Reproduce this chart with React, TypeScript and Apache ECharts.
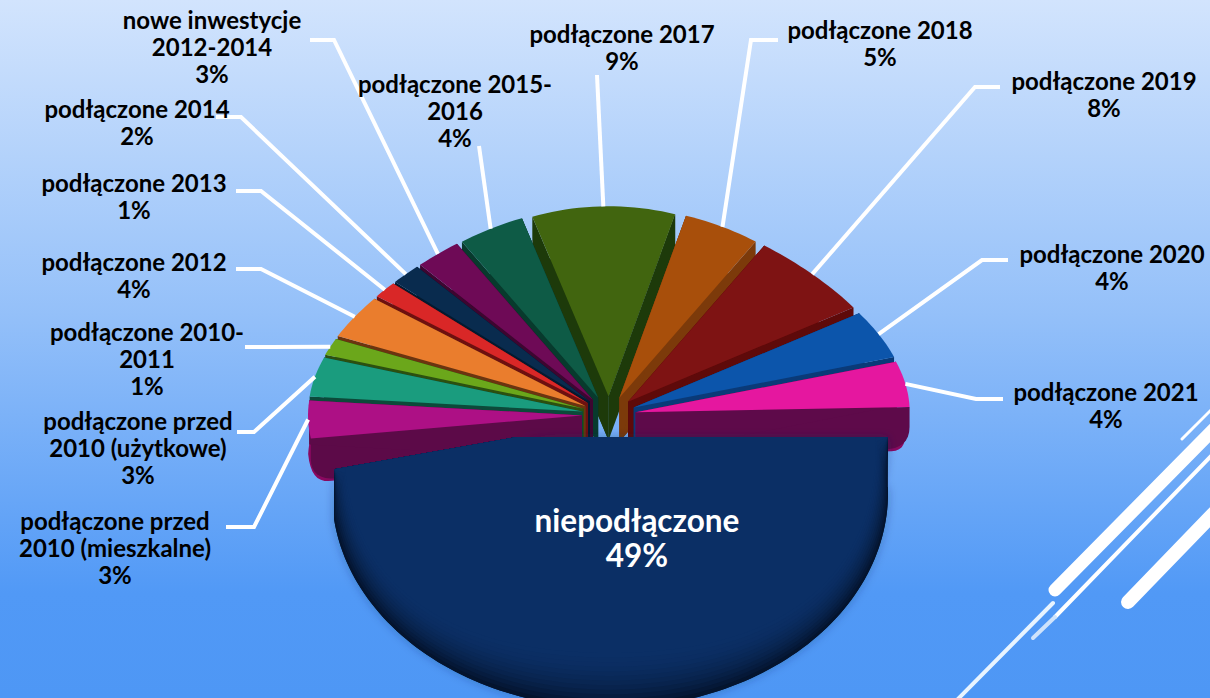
import React, { useEffect, useRef } from "react";
import * as echarts from "echarts";

// Reading order: clockwise from the large front slice.
const categories = [
  "niepodłączone",
  "podłączone przed\n2010 (mieszkalne)",
  "podłączone przed\n2010 (użytkowe)",
  "podłączone 2010-\n2011",
  "podłączone 2012",
  "podłączone 2013",
  "podłączone 2014",
  "nowe inwestycje\n2012-2014",
  "podłączone 2015-\n2016",
  "podłączone 2017",
  "podłączone 2018",
  "podłączone 2019",
  "podłączone 2020",
  "podłączone 2021",
];
const values = [48.5, 3.2, 3.4, 1.49, 3.9, 1.5, 1.9, 2.9, 4.1, 8.51, 4.7, 7.7, 4.3, 3.9];
const percentLabels = ["49%", "3%", "3%", "1%", "4%", "1%", "2%", "3%", "4%", "9%", "5%", "8%", "4%", "4%"];

const topColors = ["#0b2f65", "#ad1085", "#1a9c7e", "#6ba71b", "#ea7d2d", "#d92727", "#092b4e", "#6e0a56", "#0e5b46", "#41650f", "#a84f0b", "#7e1313", "#0c55ab", "#e5179f"];
const wallColors = ["#04193a", "#5c0a48", "#0c4a3a", "#2c5010", "#6b3410", "#6e1010", "#041a30", "#3d0630", "#083a2d", "#1d3a0a", "#7c3a0a", "#5e0a0a", "#0a3a78", "#5e0a4a"];
const rimColors = ["#04193a", "#8a0960", "#0c4a3a", "#2c5010", "#6b3410", "#6e1010", "#041a30", "#3d0630", "#083a2d", "#1d3a0a", "#7c3a0a", "#5e0a0a", "#0a3a78", "#8a0960"];

const START_DEG = 88.4;
const FONT = "Lato";
const PIE = { cx: 609, cy: 415, rx: 274, ry: 190, explode: 27, depth: 44, squeeze: -0.05 };
const MAIN = { cx: 610, cy: 443, rx: 278, ry: 215, topRx: 266, topRy: 210, depth: 50, bulge: 0.05, bevelSteps: 12, apexX: 517, apexY: 437 };
// Label box: centre x, top y; leader: start x, elbow x, y.
const labelBoxes: number[][] = [
  [637, 502], [115, 507], [138, 407], [147, 318], [134, 248], [134, 169], [137, 95], [212, 6], [455, 70], [622, 20], [880, 16], [1104, 67], [1112, 240], [1106, 378],
];
const leaders: (number[] | null)[] = [
  null, [226, 254, 527], [237, 254, 432], [245, 270, 347], [236, 261, 269], [236, 261, 191], [216, 241, 117], [310, 334, 40], [479, 479, 146], [597, 597, 75], [778, 751, 40], [1000, 975, 87], [1008, 982, 260], [1003, 976, 399],
];
const decorLines: (number | string)[][] = [
  [1182, 439, 1215, 406, 3, "#ffffff"],
  [1055, 590, 1215, 428, 13, "#ffffff"],
  [1055, 617, 1215, 452, 4, "#ffffff"],
  [1033, 638, 1055, 617, 4, "#cfe3fb"],
  [1128, 602, 1215, 512, 14, "#ffffff"],
  [957, 700, 1053, 603, 4, "#e8f4ff"],
];

const total = values.reduce((a, b) => a + b, 0);
const startAngles: number[] = [];
values.reduce((acc, v, i) => {
  startAngles[i] = acc;
  return acc + (v / total) * 360;
}, START_DEG);
const rad = (d: number) => (d * Math.PI) / 180;
const midAngle = (i: number) => startAngles[i] + ((values[i] / total) * 360) / 2;
const sliceCenter = (i: number) => {
  const m = rad(midAngle(i));
  return [PIE.cx + PIE.explode * Math.sin(m), PIE.cy - PIE.explode * (PIE.ry / PIE.rx) * Math.cos(m)];
};
const rimPoint = (cx: number, cy: number, rx: number, ry: number, deg: number, warp: number) => {
  const t = rad(deg);
  const f = 1 + warp * Math.sin(2 * t) ** 2;
  return [cx + rx * f * Math.sin(t), cy - ry * f * Math.cos(t)];
};
const arc = (cx: number, cy: number, rx: number, ry: number, a0: number, a1: number, warp: number) => {
  const n = Math.max(6, Math.ceil(Math.abs(a1 - a0) / 1.5));
  const pts: number[][] = [];
  for (let k = 0; k <= n; k++) pts.push(rimPoint(cx, cy, rx, ry, a0 + ((a1 - a0) * k) / n, warp));
  return pts;
};
const down = (pts: number[][], d: number) => pts.map((p) => [p[0], p[1] + d]);
const curve = (a: number[], b: number[], c: number[]) => {
  const out: number[][] = [];
  for (let k = 0; k <= 8; k++) {
    const t = k / 8;
    const u = 1 - t;
    out.push([u * u * a[0] + 2 * u * t * b[0] + t * t * c[0], u * u * a[1] + 2 * u * t * b[1] + t * t * c[1]]);
  }
  return out;
};
const toward = (from: number[], to: number[], dist: number) => {
  const dx = to[0] - from[0];
  const dy = to[1] - from[1];
  const len = Math.hypot(dx, dy) || 1;
  return [from[0] + (dx / len) * dist, from[1] + (dy / len) * dist];
};
const mixColor = (s: number) => {
  const a = [11, 47, 101];
  const b = [4, 20, 46];
  const c = a.map((v, k) => Math.round(v + (b[k] - v) * s));
  return `rgb(${c[0]},${c[1]},${c[2]})`;
};

// Paint back slices first, the big front slice last.
const paintOrder = values
  .map((_, i) => i)
  .filter((i) => i !== 0)
  .sort((a, b) => Math.cos(rad(midAngle(b))) - Math.cos(rad(midAngle(a))))
  .concat([0]);

function renderSlice(_: any, api: any) {
  const i = api.value(0) as number;
  const a0 = api.value(1) as number;
  const a1 = api.value(2) as number;
  const children: any[] = [];
  if (i === 0) {
    const hull = arc(MAIN.cx, MAIN.cy, MAIN.rx, MAIN.ry, a0, a1, 0);
    const low = down(hull, MAIN.depth);
    const top = arc(MAIN.cx, MAIN.cy, MAIN.topRx, MAIN.topRy, a0, a1, MAIN.bulge);
    const apex = [MAIN.apexX, MAIN.apexY];
    const first = hull[0];
    const last = hull[hull.length - 1];
    // Silhouette, then ever smaller outlines towards the top face: the soft bevel.
    children.push({
      type: "polygon",
      shape: { points: [apex, ...hull, ...low.slice().reverse()] },
      style: { fill: mixColor(1), shadowBlur: 10, shadowColor: "rgba(10,40,90,0.35)" },
    });
    for (let k = MAIN.bevelSteps; k >= 0; k--) {
      const s = k / MAIN.bevelSteps;
      const pts = top.map((p, j) => [p[0] + (low[j][0] - p[0]) * s, p[1] + (low[j][1] - p[1]) * s]);
      children.push({
        type: "polygon",
        shape: { points: [apex, first, ...pts, last] },
        style: { fill: mixColor(s * s) },
      });
    }
    return { type: "group", children };
  }
  const [cx, cy] = sliceCenter(i);
  const { rx, ry, depth, squeeze } = PIE;
  const rim = arc(cx, cy, rx, ry, a0, a1, squeeze);
  const bottom = down(rim, depth);
  const base = [cx, cy + depth];
  // The end of the slice nearer the viewer has a rounded lower corner.
  const frontIsEnd = Math.cos(rad(a1)) < Math.cos(rad(a0));
  const frontRim = frontIsEnd ? rim : rim.slice().reverse();
  const frontBottom = frontIsEnd ? bottom : bottom.slice().reverse();
  const n = frontRim.length - 1;
  const corner = frontBottom[n];
  const arcSide = frontBottom[Math.max(0, n - 6)];
  const wallSide = toward(corner, base, 18);
  const body = [frontRim[0], ...frontBottom.slice(0, Math.max(1, n - 5)), ...curve(arcSide, corner, wallSide), base, [cx, cy]];
  children.push({ type: "polygon", shape: { points: body }, style: { fill: rimColors[i] } });
  const wallTop = frontRim[n];
  const wallCorner = [corner[0], corner[1] - 2];
  children.push({
    type: "polygon",
    shape: {
      points: [[cx, cy], wallTop, ...curve([wallCorner[0], wallCorner[1] - 22], wallCorner, toward(wallCorner, base, 26)), base],
    },
    style: { fill: wallColors[i] },
  });
  const backRim = frontRim[0];
  children.push({
    type: "polygon",
    shape: { points: [[cx, cy], backRim, [backRim[0], backRim[1] + depth], base] },
    style: { fill: wallColors[i] },
  });
  children.push({
    type: "polygon",
    shape: { points: [[cx, cy], ...rim] },
    style: { fill: topColors[i] },
  });
  return { type: "group", children };
}

function renderLabel(_: any, api: any) {
  const i = api.value(0) as number;
  const box = labelBoxes[i];
  const leader = leaders[i];
  const children: any[] = [];
  if (leader) {
    const [cx, cy] = sliceCenter(i);
    const end = rimPoint(cx, cy, PIE.rx, PIE.ry, midAngle(i), PIE.squeeze);
    const pts = leader[0] === leader[1] ? [[leader[0], leader[2]], end] : [[leader[0], leader[2]], [leader[1], leader[2]], end];
    children.push({
      type: "polyline",
      shape: { points: pts },
      style: { stroke: "#ffffff", lineWidth: 4, fill: "none" },
    });
  }
  const big = i === 0;
  children.push({
    type: "text",
    style: {
      text: categories[i] + "\n" + percentLabels[i],
      x: box[0],
      y: box[1],
      align: "center",
      verticalAlign: "top",
      fill: big ? "#ffffff" : "#000000",
      fontFamily: FONT,
      fontWeight: "bold",
      fontSize: big ? 31.5 : 24,
      lineHeight: big ? 35 : 27,
    },
  });
  return { type: "group", children };
}

export default function App() {
  const ref = useRef<HTMLDivElement>(null);
  useEffect(() => {
    const chart = echarts.init(ref.current!, undefined, { renderer: "svg" });
    chart.setOption({
      animation: false,
      backgroundColor: new echarts.graphic.LinearGradient(0, 0, 0, 1, [
        { offset: 0, color: "#d2e4fd" },
        { offset: 0.45, color: "#94c0f9" },
        { offset: 0.85, color: "#5199f6" },
        { offset: 1, color: "#4e97f5" },
      ]),
      graphic: decorLines.map((d) => ({
        type: "line",
        z: 0,
        shape: { x1: d[0], y1: d[1], x2: d[2], y2: d[3] },
        style: { stroke: d[5], lineWidth: d[4], lineCap: "round" },
      })),
      series: [
        {
          type: "custom",
          coordinateSystem: "none",
          z: 2,
          silent: true,
          renderItem: renderSlice,
          data: paintOrder.map((i) => [i, startAngles[i], startAngles[i] + (values[i] / total) * 360]),
        },
        {
          type: "custom",
          coordinateSystem: "none",
          z: 3,
          silent: true,
          renderItem: renderLabel,
          data: categories.map((_, i) => [i]),
        },
      ],
    });
    return () => chart.dispose();
  }, []);
  return <div ref={ref} style={{ position: "absolute", left: 0, top: 0, width: 1210, height: 698 }} />;
}
